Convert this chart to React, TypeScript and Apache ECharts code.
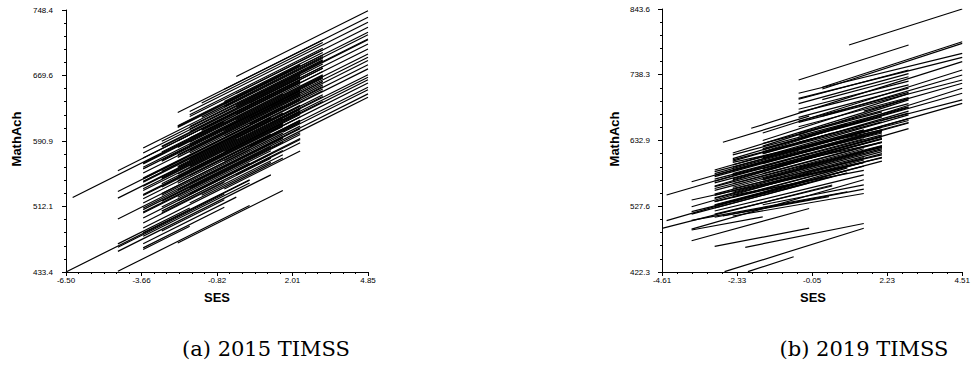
import React, { useEffect, useRef } from "react";
import * as echarts from "echarts";

// Tick labels
const xTicks2015 = ["-6.50", "-3.66", "-0.82", "2.01", "4.85"];
const yTicks2015 = ["433.4", "512.1", "590.9", "669.6", "748.4"];
const xTicks2019 = ["-4.61", "-2.33", "-0.05", "2.23", "4.51"];
const yTicks2019 = ["422.3", "527.6", "632.9", "738.3", "843.6"];

const captions = ["(a) 2015 TIMSS", "(b) 2019 TIMSS"];
const xName = "SES";
const yName = "MathAch";

// School regression lines: [SES start, MathAch start, SES end, MathAch end]
const lines2015: number[][] = [
  [-6.5, 433.4, 0.4, 543.8],
  [-6.25, 523.0, -0.55, 614.2],
  [-4.55, 555.2, 1.2, 647.2],
  [-4.55, 530.2, 0.4, 609.4],
  [-4.55, 522.2, -0.1, 593.4],
  [-4.55, 497.2, 1.65, 596.4],
  [-4.55, 463.2, -0.55, 527.2],
  [-4.55, 434.2, 0.4, 513.4],
  [-4.55, 467.2, -1.85, 510.4],
  [-4.55, 458.2, 1.2, 550.2],
  [-3.6, 582.4, 3.15, 690.4],
  [-3.6, 576.4, 2.3, 670.8],
  [-3.6, 570.4, 3.15, 678.4],
  [-3.6, 563.4, 1.65, 647.4],
  [-3.6, 557.4, 2.3, 651.8],
  [-3.6, 552.4, 4.85, 687.6],
  [-3.6, 546.4, 2.3, 640.8],
  [-3.6, 541.4, 1.2, 618.2],
  [-3.6, 536.4, 3.15, 644.4],
  [-3.6, 531.4, 2.3, 625.8],
  [-3.6, 526.4, 1.65, 610.4],
  [-3.6, 521.4, 2.3, 615.8],
  [-3.6, 516.4, 0.4, 580.4],
  [-3.6, 510.4, 1.65, 594.4],
  [-3.6, 504.4, 2.3, 598.8],
  [-3.6, 498.4, 1.2, 575.2],
  [-3.6, 492.4, -0.55, 541.2],
  [-3.6, 486.4, 1.65, 570.4],
  [-3.6, 476.4, 0.4, 540.4],
  [-3.6, 467.4, -0.1, 523.4],
  [-3.6, 460.4, -1.85, 488.4],
  [-2.9, 583.6, 3.15, 680.4],
  [-2.9, 577.6, 4.85, 701.6],
  [-2.9, 566.6, 2.3, 649.8],
  [-2.9, 556.6, 3.15, 653.4],
  [-2.9, 546.6, 2.3, 629.8],
  [-2.9, 539.6, 1.65, 612.4],
  [-2.9, 525.6, 2.3, 608.8],
  [-2.9, 518.6, 1.2, 584.2],
  [-2.9, 511.6, 0.4, 564.4],
  [-2.3, 625.2, 3.15, 712.4],
  [-2.3, 609.2, 2.3, 682.8],
  [-2.3, 607.2, 4.85, 721.6],
  [-2.3, 583.2, 3.15, 670.4],
  [-2.3, 560.2, 2.3, 633.8],
  [-2.3, 519.2, 2.3, 592.8],
  [-2.3, 468.2, 1.65, 531.4],
  [-2.3, 543.2, 1.2, 599.2],
  [-1.85, 622.4, 3.15, 702.4],
  [-1.85, 626.4, 4.85, 733.6],
  [-1.85, 608.4, 3.15, 688.4],
  [-1.85, 605.4, 4.85, 712.6],
  [-1.85, 586.4, 3.15, 666.4],
  [-1.85, 579.4, 2.3, 645.8],
  [-1.85, 570.4, 4.85, 677.6],
  [-1.85, 560.4, 2.3, 626.8],
  [-1.85, 534.4, 2.3, 600.8],
  [-1.4, 636.6, 3.15, 709.4],
  [-1.4, 603.6, 2.3, 662.8],
  [-1.4, 525.6, 1.65, 574.4],
  [-0.55, 653.2, 4.85, 739.6],
  [-0.55, 638.2, 3.15, 697.4],
  [-0.55, 632.2, 4.85, 718.6],
  [-0.55, 597.2, 3.15, 656.4],
  [-0.55, 578.2, 4.85, 664.6],
  [-0.55, 567.2, 2.3, 612.8],
  [-0.55, 533.2, 2.3, 578.8],
  [-0.1, 668.4, 4.85, 747.6],
  [-0.1, 648.4, 4.85, 727.6],
  [-0.1, 631.4, 3.15, 683.4],
  [-0.1, 616.4, 4.85, 695.6],
  [-0.1, 594.4, 3.15, 646.4],
  [-0.1, 550.4, 2.3, 588.8],
  [0.4, 636.4, 4.85, 707.6],
  [0.4, 611.4, 4.85, 682.6],
  [0.4, 584.4, 4.85, 655.6],
  [0.4, 618.4, 3.15, 662.4],
  [1.2, 633.2, 4.85, 691.6],
  [1.2, 612.2, 4.85, 670.6],
  [1.2, 602.2, 4.85, 660.6],
  [1.65, 601.4, 4.85, 652.6],
  [1.65, 616.4, 4.85, 667.6],
  [1.65, 596.4, 4.85, 647.6],
  [2.3, 602.8, 4.85, 643.6],
  [-2.9, 584.6, 2.3, 667.8],
  [-1.85, 594.4, 3.15, 674.4],
  [-3.6, 559.4, 3.15, 667.4],
  [-2.3, 574.2, 2.3, 647.8],
  [-1.85, 576.4, 1.65, 632.4],
  [-2.9, 554.6, 3.15, 651.4],
  [-2.3, 559.2, 2.3, 632.8],
  [-3.6, 533.4, 1.65, 617.4],
  [-1.85, 556.4, 2.3, 622.8],
  [-2.9, 535.6, 1.65, 608.4],
  [-2.3, 540.2, 2.3, 613.8],
  [-1.85, 540.4, 1.65, 596.4],
  [-3.6, 508.4, 2.3, 602.8],
  [-2.3, 523.2, 1.2, 579.2],
  [-2.9, 506.6, 1.65, 579.4],
  [-1.85, 516.4, 1.2, 565.2],
  [-3.6, 480.4, 0.4, 544.4],
  [-2.9, 482.6, -0.55, 520.2],
  [-3.6, 462.4, -0.55, 511.2],
  [-0.55, 603.2, 3.15, 662.4],
  [-0.1, 623.4, 2.3, 661.8],
  [-1.85, 620.4, 3.15, 700.4],
  [-2.3, 608.2, 2.3, 681.8],
  [-1.4, 619.6, 3.15, 692.4],
  [-2.9, 590.6, 3.15, 687.4],
  [-1.85, 602.4, 2.3, 668.8],
  [-2.3, 591.2, 3.15, 678.4],
  [-3.6, 564.4, 2.3, 658.8],
  [-1.85, 589.4, 3.15, 669.4],
  [-2.9, 567.6, 1.65, 640.4],
  [-2.3, 571.2, 3.15, 658.4],
  [-3.6, 545.4, 2.3, 639.8],
  [-1.85, 568.4, 1.65, 624.4],
  [-2.9, 545.6, 2.3, 628.8],
  [-2.3, 551.2, 3.15, 638.4],
  [-3.6, 525.4, 2.3, 619.8],
  [-1.85, 549.4, 2.3, 615.8],
  [-2.9, 527.6, 1.65, 600.4],
  [-2.3, 532.2, 2.3, 605.8],
  [-3.6, 505.4, 1.65, 589.4],
  [-1.85, 527.4, 2.3, 593.8],
  [-2.9, 504.6, 1.2, 570.2],
  [-0.55, 635.2, 3.15, 694.4],
  [-0.1, 634.4, 4.85, 713.6],
  [-1.4, 604.6, 2.3, 663.8],
  [-0.55, 606.2, 2.3, 651.8],
  [-3.6, 542.4, 1.2, 619.2],
  [-2.3, 548.2, 1.65, 611.4],
];

const lines2019: number[][] = [
  [1.07, 785.9, 4.51, 843.6],
  [-0.46, 729.9, 2.88, 785.9],
  [0.26, 718.2, 4.51, 791.2],
  [0.26, 715.5, 4.51, 788.6],
  [-0.46, 708.6, 4.51, 772.6],
  [-0.46, 700.5, 4.51, 766.2],
  [-1.9, 652.5, 4.51, 759.2],
  [-1.55, 645.0, 4.51, 745.9],
  [0.26, 672.0, 4.51, 737.9],
  [-0.46, 662.0, 4.51, 729.9],
  [1.52, 680.0, 4.51, 724.6],
  [-1.55, 615.0, 4.51, 716.6],
  [0.56, 650.0, 4.51, 708.6],
  [2.07, 665.0, 4.51, 697.9],
  [1.02, 640.0, 4.51, 692.5],
  [-2.76, 630.1, -0.14, 672.0],
  [-0.46, 699.1, 2.88, 745.9],
  [-0.46, 692.0, 2.88, 740.0],
  [0.26, 698.3, 2.88, 735.0],
  [-0.46, 683.0, 2.88, 728.0],
  [-0.46, 678.0, 2.88, 722.0],
  [-1.55, 633.0, 2.88, 708.0],
  [-0.46, 664.0, 2.88, 710.0],
  [-2.46, 612.9, 2.88, 700.0],
  [-1.55, 624.0, 2.88, 698.0],
  [-0.46, 645.0, 2.88, 692.0],
  [-2.46, 604.0, 2.88, 686.0],
  [-1.55, 612.0, 2.88, 680.0],
  [-3.01, 585.7, 2.88, 674.0],
  [-2.46, 590.0, 2.88, 668.0],
  [-3.01, 575.0, 2.88, 661.0],
  [-3.01, 580.0, 2.07, 654.6],
  [-2.46, 598.0, 2.07, 650.0],
  [-1.55, 598.0, 2.07, 645.0],
  [-3.01, 568.0, 2.07, 640.0],
  [-0.46, 600.0, 2.07, 635.0],
  [-2.46, 578.0, 2.07, 630.0],
  [-3.01, 556.0, 2.07, 625.0],
  [-1.55, 570.0, 2.07, 620.0],
  [-3.01, 545.0, 2.07, 615.0],
  [-2.46, 556.0, 2.07, 610.0],
  [-0.46, 575.0, 2.07, 605.0],
  [-3.01, 540.0, 1.52, 601.7],
  [-3.71, 537.6, 1.52, 598.0],
  [-3.01, 530.0, 1.52, 592.0],
  [-2.46, 545.0, 1.52, 585.0],
  [-3.01, 520.0, 1.52, 578.0],
  [-3.71, 491.0, 1.52, 570.0],
  [-1.55, 530.0, 1.52, 562.0],
  [-3.01, 510.0, 1.52, 555.0],
  [-2.46, 512.0, 1.52, 548.0],
  [-2.71, 422.8, 1.52, 492.3],
  [-2.08, 461.8, 1.52, 500.0],
  [-2.76, 512.0, 0.46, 543.0],
  [-3.71, 505.0, 1.02, 550.9],
  [-4.47, 504.5, 1.02, 589.0],
  [-4.61, 492.3, 0.56, 561.6],
  [-4.47, 545.6, -0.14, 612.3],
  [-3.71, 566.9, -0.46, 615.6],
  [-3.71, 526.9, -0.14, 580.5],
  [-3.71, 515.0, 1.02, 581.0],
  [-3.71, 489.6, -1.55, 510.5],
  [-3.71, 472.4, -0.14, 524.0],
  [-3.01, 463.3, -0.14, 492.5],
  [-2.0, 422.8, -0.61, 446.8],
  [-3.01, 535.0, -0.14, 570.0],
  [-2.46, 585.0, 1.02, 632.0],
  [-1.55, 605.0, 1.52, 650.0],
  [-3.01, 560.0, 0.56, 615.0],
  [-2.46, 570.0, 2.07, 636.0],
  [-1.55, 585.0, 2.88, 652.0],
  [-0.46, 620.0, 2.88, 665.0],
  [-2.46, 600.0, 0.56, 645.0],
  [-1.55, 618.0, 1.02, 660.0],
  [-3.01, 525.0, -0.14, 565.0],
  [-2.46, 535.0, 1.02, 585.0],
  [-0.46, 590.0, 2.07, 622.0],
  [-1.55, 560.0, 1.52, 598.0],
  [-3.01, 515.0, 0.56, 560.0],
  [-3.71, 519.0, 0.56, 575.0],
  [-3.01, 583.0, 2.07, 654.0],
  [-3.01, 577.0, 2.07, 648.0],
  [-3.01, 571.0, 2.07, 642.0],
  [-3.01, 565.0, 2.07, 636.0],
  [-3.01, 559.0, 2.07, 630.0],
  [-3.01, 553.0, 2.07, 624.0],
  [-3.01, 547.0, 2.07, 618.0],
  [-3.01, 541.0, 2.07, 612.0],
  [-3.01, 535.0, 2.07, 606.0],
  [-3.01, 529.0, 2.07, 600.0],
  [-2.46, 610.0, 1.52, 665.7],
  [-2.46, 602.0, 1.52, 657.7],
  [-2.46, 594.0, 1.52, 649.7],
  [-2.46, 586.0, 1.52, 641.7],
  [-2.46, 580.0, 1.52, 635.7],
  [-2.46, 572.0, 1.52, 627.7],
  [-2.46, 564.0, 1.52, 619.7],
  [-2.46, 558.0, 1.52, 613.7],
  [-2.46, 550.0, 1.52, 605.7],
  [-2.46, 542.0, 1.52, 597.7],
  [-1.55, 628.0, 2.07, 678.7],
  [-1.55, 620.0, 2.07, 670.7],
  [-1.55, 612.0, 2.07, 662.7],
  [-1.55, 604.0, 2.07, 654.7],
  [-1.55, 596.0, 2.07, 646.7],
  [-1.55, 588.0, 2.07, 638.7],
  [-1.55, 580.0, 2.07, 630.7],
  [-1.55, 572.0, 2.07, 622.7],
  [-0.46, 670.0, 2.88, 716.8],
  [-0.46, 655.0, 2.88, 701.8],
  [-0.46, 640.0, 2.88, 686.8],
  [-0.46, 630.0, 2.88, 676.8],
  [-0.46, 615.0, 2.88, 661.8],
];

const LABEL_FONT = '"Liberation Sans", Arial, sans-serif';

function axisPair(
  labels: string[],
  gridIndex: number,
  subdiv: number,
  isX: boolean,
  labelMargin: number
) {
  const last = labels.length - 1;
  const min = parseFloat(labels[0]);
  const max = parseFloat(labels[last]);
  const step = (max - min) / last;
  const major = labels.map((_, i) => (i === last ? max : min + i * step));
  const minor: number[] = [];
  for (let i = 0; i <= last * subdiv; i++) {
    if (i % subdiv !== 0) minor.push(min + (i * step) / subdiv);
  }
  const position = isX ? "bottom" : "left";
  const main = {
    type: "value",
    gridIndex,
    min,
    max,
    position,
    axisLine: { show: true, onZero: false, lineStyle: { color: "#000", width: 1 } },
    axisTick: { show: true, length: 4, customValues: major, lineStyle: { color: "#000", width: 1 } },
    axisLabel: {
      show: true,
      customValues: major,
      formatter: (v: number) => labels[Math.round((v - min) / step)],
      fontSize: 8,
      color: "#000",
      fontFamily: LABEL_FONT,
      margin: labelMargin,
    },
    splitLine: { show: false },
  };
  const sub = {
    type: "value",
    gridIndex,
    min,
    max,
    position,
    axisLine: { show: false, onZero: false },
    axisTick: { show: true, length: 2, customValues: minor, lineStyle: { color: "#000", width: 1 } },
    axisLabel: { show: false },
    splitLine: { show: false },
  };
  return [main, sub];
}

function toSeries(lines: number[][], axisIndex: number) {
  return {
    type: "lines",
    coordinateSystem: "cartesian2d",
    xAxisIndex: axisIndex,
    yAxisIndex: axisIndex,
    polyline: false,
    silent: true,
    lineStyle: { color: "#000", width: 1.2, opacity: 1 },
    data: lines.map((l) => ({ coords: [[l[0], l[1]], [l[2], l[3]]] })),
  };
}

function textEl(text: string, x: number, y: number, font: string, rotation = 0) {
  return {
    type: "text",
    x,
    y,
    rotation,
    silent: true,
    style: {
      text,
      font,
      fill: "#000",
      align: "center",
      verticalAlign: "middle",
      textAlign: "center",
      textVerticalAlign: "middle",
    },
  };
}

export default function App() {
  const ref = useRef<HTMLDivElement>(null);
  useEffect(() => {
    if (!ref.current) return;
    const chart = echarts.init(ref.current, undefined, { renderer: "svg" });
    const x2015 = axisPair(xTicks2015, 0, 6, true, 4);
    const y2015 = axisPair(yTicks2015, 0, 5, false, 13);
    const x2019 = axisPair(xTicks2019, 1, 5, true, 4);
    const y2019 = axisPair(yTicks2019, 1, 5, false, 12);
    const axisFont = 'bold 13px "Liberation Sans", Arial, sans-serif';
    const capFont = '21px "DejaVu Serif", serif';
    chart.setOption({
      animation: false,
      backgroundColor: "#fff",
      grid: [
        { left: 66, top: 10, width: 302, height: 262 },
        { left: 662, top: 9, width: 302, height: 263 },
      ],
      xAxis: [...x2015, ...x2019],
      yAxis: [...y2015, ...y2019],
      series: [toSeries(lines2015, 0), toSeries(lines2019, 2)],
      graphic: [
        textEl(yName, 16, 139, axisFont, Math.PI / 2),
        textEl(xName, 217, 297, axisFont),
        textEl(yName, 614, 139, axisFont, Math.PI / 2),
        textEl(xName, 813, 297, axisFont),
        textEl(captions[0], 266, 349, capFont),
        textEl(captions[1], 864, 349, capFont),
      ],
    });
    return () => chart.dispose();
  }, []);
  return (
    <div
      ref={ref}
      style={{ position: "absolute", left: 0, top: 0, width: 973, height: 369 }}
    />
  );
}
